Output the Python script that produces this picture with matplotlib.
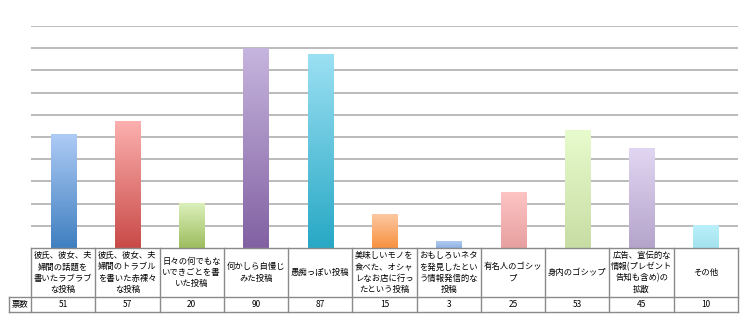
import numpy as np
import matplotlib
matplotlib.use("Agg")
import matplotlib.pyplot as plt
from matplotlib.colors import LinearSegmentedColormap

plt.rcParams['font.family'] = ['Noto Sans CJK JP', 'DejaVu Sans']

categories = [
    "彼氏、彼女、夫\n婦間の話題を\n書いたラブラブ\nな投稿",
    "彼氏、彼女、夫\n婦間のトラブル\nを書いた赤裸々\nな投稿",
    "日々の何でもな\nいできごとを書\nいた投稿",
    "何かしら自慢じ\nみた投稿",
    "愚痴っぽい投稿",
    "美味しいモノを\n食べた、オシャ\nレなお店に行っ\nたという投稿",
    "おもしろいネタ\nを発見したとい\nう情報発信的な\n投稿",
    "有名人のゴシッ\nプ",
    "身内のゴシップ",
    "広告、宣伝的な\n情報(プレゼント\n告知も含め)の\n拡散",
    "その他",
]
votes = [51, 57, 20, 90, 87, 15, 3, 25, 53, 45, 10]
row_label = "票数"

# gradient colours per bar: (top, bottom)
bar_colors = [
    ("#aecbf5", "#3f7fc0"),
    ("#fbb0af", "#c94a47"),
    ("#dcf0ba", "#9cbd5e"),
    ("#c6b5de", "#8261a2"),
    ("#9ce0f3", "#27a8c5"),
    ("#fdc8a2", "#f7913f"),
    ("#b0cbf0", "#8fb2e3"),
    ("#fdc4c4", "#e6a09f"),
    ("#e7fbcd", "#c8dda4"),
    ("#e1d6f2", "#b4a4cb"),
    ("#bbf0fa", "#a2e2ef"),
]

W, H = 745, 335
fig = plt.figure(figsize=(W / 100, H / 100), dpi=100)
ax_left, ax_right, ax_bottom, ax_top = 31, 738, 248, 26
ax = fig.add_axes([ax_left / W, (H - ax_bottom) / H,
                   (ax_right - ax_left) / W, (ax_bottom - ax_top) / H])

n = len(votes)
x = np.arange(n)
bar_w = 0.39
grad = np.linspace(0, 1, 256).reshape(-1, 1)

for i, (v, (ctop, cbot)) in enumerate(zip(votes, bar_colors)):
    cmap = LinearSegmentedColormap.from_list(f"g{i}", [cbot, ctop])
    ax.imshow(grad, extent=(x[i] - bar_w / 2, x[i] + bar_w / 2, 0, v),
              origin="lower", cmap=cmap, aspect="auto", zorder=3,
              interpolation="bilinear")

ax.set_xlim(-0.5, n - 0.5)
ax.set_ylim(0, 100)

# horizontal gridlines
for g in range(10, 101, 10):
    ax.axhline(g, color="#a8a8a8", lw=1.1, zorder=1)

for s in ax.spines.values():
    s.set_visible(False)
ax.set_xticks([])
ax.set_yticks([])

# data table under the plot
cat_px = (ax_right - ax_left) / n
axh = ax_bottom - ax_top
y_head = -(297 - ax_bottom) / axh
y_val = -(312 - ax_bottom) / axh
x_lab = -0.5 - (ax_left - 9) / cat_px
trans = ax.get_xaxis_transform()
line_kw = dict(color="#8a8a8a", lw=1.0, transform=trans, clip_on=False, zorder=4)

ax.plot([-0.5, n - 0.5], [0, 0], **line_kw)
ax.plot([x_lab, n - 0.5], [y_head, y_head], **line_kw)
ax.plot([x_lab, n - 0.5], [y_val, y_val], **line_kw)
ax.plot([x_lab, x_lab], [y_head, y_val], **line_kw)
for b in np.arange(-0.5, n, 1.0):
    ax.plot([b, b], [0, y_val], **line_kw)

for i, (cat, v) in enumerate(zip(categories, votes)):
    ax.text(x[i], y_head / 2, cat, transform=trans, ha="center", va="center",
            fontsize=6, linespacing=1.3, color="#000000", clip_on=False)
    ax.text(x[i], (y_head + y_val) / 2, str(v), transform=trans, ha="center",
            va="center", fontsize=6, color="#000000", clip_on=False)
ax.text((x_lab - 0.5) / 2, (y_head + y_val) / 2, row_label, transform=trans,
        ha="center", va="center", fontsize=6, color="#000000", clip_on=False)

fig.savefig("out.png", dpi=100)
